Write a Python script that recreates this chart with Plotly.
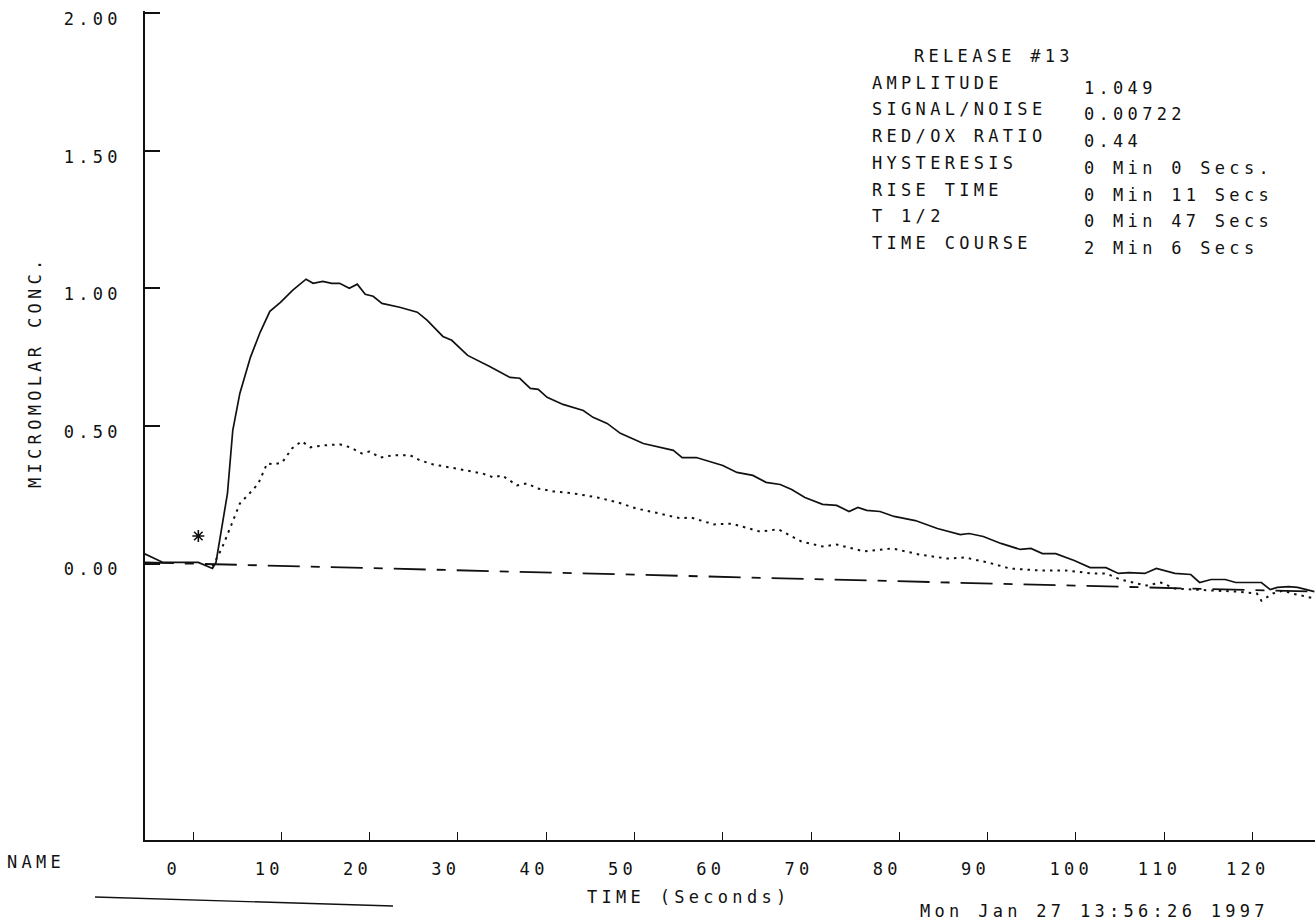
import plotly.graph_objects as go

# ---------------- data ----------------
time_solid = [-5.8, -3.4, 0.6, 2.2, 2.6, 3.1, 3.9, 4.5, 5.3, 6.5, 7.6, 8.7, 9.9, 11.3, 12.8,
              13.6, 14.7, 15.7, 16.6, 17.7, 18.6, 19.5, 20.4, 21.4, 23.4, 25.4, 26.5, 28.3,
              29.3, 31.1, 33.6, 35.9, 37.0, 38.2, 39.1, 40.1, 41.9, 44.2, 45.3, 46.9, 48.4,
              51.0, 52.8, 54.4, 55.4, 57.0, 60.0, 61.6, 63.4, 64.9, 66.5, 67.8, 69.3, 71.3,
              72.9, 74.3, 75.3, 76.3, 77.8, 79.4, 81.8, 84.3, 86.9, 87.9, 89.5, 91.5, 93.7,
              94.9, 96.2, 97.7, 99.8, 101.6, 103.4, 104.8, 106.0, 107.8, 109.1, 111.2, 113.0,
              114.0, 115.3, 116.9, 118.1, 121.0, 122.0, 122.8, 124.1, 125.1, 127.0]
conc_solid = [0.040, 0.004, 0.004, -0.018, 0.004, 0.095, 0.255, 0.484, 0.618, 0.749, 0.840,
              0.916, 0.949, 0.993, 1.033, 1.018, 1.025, 1.018, 1.018, 1.000, 1.015, 0.978,
              0.971, 0.945, 0.931, 0.913, 0.884, 0.825, 0.811, 0.756, 0.716, 0.676, 0.673,
              0.636, 0.633, 0.604, 0.578, 0.556, 0.531, 0.509, 0.473, 0.436, 0.422, 0.411,
              0.385, 0.385, 0.356, 0.331, 0.320, 0.295, 0.287, 0.269, 0.240, 0.215, 0.211,
              0.189, 0.204, 0.193, 0.189, 0.171, 0.156, 0.127, 0.105, 0.109, 0.098, 0.073,
              0.051, 0.055, 0.036, 0.036, 0.011, -0.015, -0.015, -0.036, -0.033, -0.036,
              -0.018, -0.036, -0.040, -0.069, -0.058, -0.058, -0.069, -0.069, -0.095,
              -0.087, -0.084, -0.087, -0.102]

time_dotted = [2.2, 3.3, 4.4, 5.3, 6.7, 7.4, 8.4, 9.1, 10.1, 11.2, 12.3, 13.3, 14.7, 16.6,
               17.8, 19.1, 20.0, 21.2, 22.6, 24.6, 25.7, 27.2, 29.1, 31.0, 32.8, 34.0, 35.0,
               36.7, 37.8, 39.0, 40.8, 43.0, 45.8, 48.1, 50.2, 52.8, 55.2, 56.4, 59.0, 61.0,
               64.2, 66.3, 68.9, 71.3, 72.9, 76.0, 79.2, 82.2, 85.4, 87.4, 90.0, 92.5, 95.7,
               98.8, 101.8, 103.4, 105.0, 107.0, 108.0, 109.6, 111.2, 115.3, 118.3, 120.5,
               121.0, 122.3, 123.5, 124.5, 127.0]
conc_dotted = [-0.011, 0.058, 0.145, 0.218, 0.265, 0.291, 0.364, 0.360, 0.367, 0.418, 0.444,
               0.422, 0.429, 0.433, 0.422, 0.400, 0.407, 0.385, 0.393, 0.393, 0.375, 0.360,
               0.349, 0.338, 0.327, 0.313, 0.320, 0.284, 0.291, 0.273, 0.262, 0.255, 0.240,
               0.222, 0.200, 0.182, 0.164, 0.167, 0.142, 0.145, 0.116, 0.124, 0.080, 0.062,
               0.069, 0.044, 0.055, 0.033, 0.018, 0.022, 0.004, -0.018, -0.025, -0.025,
               -0.036, -0.036, -0.058, -0.073, -0.080, -0.069, -0.091, -0.098, -0.102,
               -0.109, -0.135, -0.109, -0.098, -0.109, -0.127]

baseline_time = [-5.8, 127.0]
baseline_conc = [0.004, -0.102]

release_time = [0.6]
release_conc = [0.10]

x_tick_values = [0, 10, 20, 30, 40, 50, 60, 70, 80, 90, 100, 110, 120]
y_tick_values = [0.0, 0.5, 1.0, 1.5, 2.0]
y_tick_labels = ["0.00", "0.50", "1.00", "1.50", "2.00"]

stat_title = "RELEASE #13"
stat_labels = ["AMPLITUDE", "SIGNAL/NOISE", "RED/OX RATIO", "HYSTERESIS",
               "RISE TIME", "T 1/2", "TIME COURSE"]
stat_values = ["1.049", "0.00722", "0.44", "0 Min 0 Secs.",
               "0 Min 11 Secs", "0 Min 47 Secs", "2 Min 6 Secs"]

x_title = "TIME (Seconds)"
y_title = "MICROMOLAR CONC."
name_label = "NAME"
date_label = "Mon Jan 27 13:56:26 1997"

# ---------------- layout helpers ----------------
W, H = 1315, 923
ML, MR, MT, MB = 145, 0, 11, 83
PW, PH = W - ML - MR, H - MT - MB
FONT = "DejaVu Sans Mono"
INK = "#111111"
FS = 17
LS = 4.3


def sp(s, ls=LS):
    return f'<span style="letter-spacing:{ls}px">{s}</span>'


def px(x):
    return (x - ML) / PW


def py(y):
    return (H - MB - y) / PH


fig = go.Figure()

fig.add_trace(go.Scatter(x=baseline_time, y=baseline_conc, mode="lines",
                         line=dict(color=INK, width=1.8, dash="32px,11px,9px,11px"),
                         hoverinfo="skip", showlegend=False))
fig.add_trace(go.Scatter(x=time_dotted, y=conc_dotted, mode="lines",
                         line=dict(color=INK, width=2, dash="2.5px,5px"),
                         showlegend=False))
fig.add_trace(go.Scatter(x=time_solid, y=conc_solid, mode="lines",
                         line=dict(color=INK, width=1.7),
                         showlegend=False))
fig.add_trace(go.Scatter(x=release_time, y=release_conc, mode="markers",
                         marker=dict(symbol="asterisk-open", size=10, color=INK,
                                     line=dict(color=INK, width=1.6)),
                         showlegend=False))

tick_font = dict(family=FONT, size=FS, color=INK)

fig.update_xaxes(range=[-5.44, 127.07], showline=True, linecolor=INK, linewidth=1.6,
                 showgrid=False, zeroline=False, ticks="inside", ticklen=8, tickwidth=1.2,
                 tickcolor=INK, tickvals=x_tick_values,
                 ticktext=[sp(str(v)) for v in x_tick_values],
                 tickfont=tick_font, ticklabelposition="outside right",
                 ticklabelshift=-28, ticklabelstandoff=13, ticklabeloverflow="allow")
fig.update_yaxes(range=[-1.0045, 2.0073], showline=True, linecolor=INK, linewidth=1.6,
                 showgrid=False, zeroline=False, ticks="inside", ticklen=15, tickwidth=1.6,
                 tickcolor=INK, tickvals=y_tick_values,
                 ticktext=[sp(t) for t in y_tick_labels],
                 tickfont=tick_font, ticklabelstandoff=18, ticklabelshift=6,
                 ticklabeloverflow="allow")

ann_font = dict(family=FONT, size=FS, color=INK)
annotations = []
annotations.append(dict(x=px(912), y=py(56), xref="paper", yref="paper", text=sp(stat_title),
                        xanchor="left", yanchor="middle", showarrow=False, font=ann_font))
for i, (lab, val) in enumerate(zip(stat_labels, stat_values)):
    yl = 82.7 + 26.7 * i
    annotations.append(dict(x=px(870), y=py(yl), xref="paper", yref="paper", text=sp(lab),
                            xanchor="left", yanchor="middle", showarrow=False, font=ann_font))
    annotations.append(dict(x=px(1082), y=py(yl + 5), xref="paper", yref="paper", text=sp(val),
                            xanchor="left", yanchor="middle", showarrow=False, font=ann_font))

annotations.append(dict(x=px(35), y=py(372), xref="paper", yref="paper", text=sp(y_title),
                        textangle=-90, xanchor="center", yanchor="middle", showarrow=False,
                        font=ann_font))
annotations.append(dict(x=px(689), y=py(897), xref="paper", yref="paper", text=sp(x_title),
                        xanchor="center", yanchor="middle", showarrow=False, font=ann_font))
annotations.append(dict(x=px(5), y=py(862), xref="paper", yref="paper", text=sp(name_label),
                        xanchor="left", yanchor="middle", showarrow=False, font=ann_font))
annotations.append(dict(x=px(918), y=py(911), xref="paper", yref="paper", text=sp(date_label),
                        xanchor="left", yanchor="middle", showarrow=False, font=ann_font))

fig.add_shape(type="line", xref="paper", yref="paper", x0=px(95), y0=py(897),
              x1=px(393), y1=py(906), line=dict(color=INK, width=1.4))

fig.update_layout(width=W, height=H, margin=dict(l=ML, r=MR, t=MT, b=MB),
                  paper_bgcolor="white", plot_bgcolor="white",
                  annotations=annotations, showlegend=False)

fig.write_html("out.html", config={"displayModeBar": False})
